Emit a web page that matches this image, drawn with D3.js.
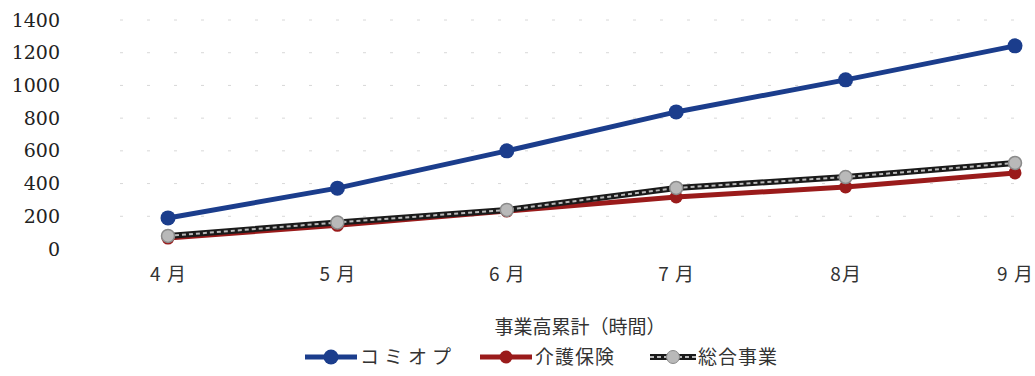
<!DOCTYPE html>
<html>
<head>
<meta charset="utf-8">
<script src="https://cdn.jsdelivr.net/npm/d3@7"></script>
<style>
  body { margin: 0; background: #fff; }
  svg { display: block; }
</style>
</head>
<body>
<svg width="1035" height="376"></svg>
<script>
// maanden en reeksen
const months = ['4 月', '5 月', '6 月', '7 月', '8月', '9 月'];
const komiop = [190, 372, 600, 838, 1034, 1242];
const kaigo = [67, 145, 232, 318, 379, 465];
const sogo = [80, 162, 239, 373, 440, 526];
const yTicks = [0, 200, 400, 600, 800, 1000, 1200, 1400];
const title = '事業高累計（時間）';

const series = [
    {name: 'コミオプ', values: komiop, color: '#1b3d8c', r: 7.5},
    {name: '介護保険', values: kaigo, color: '#9a1b1b', r: 6.5},
    {name: '総合事業', values: sogo, color: '#b9b9b9', r: 6.5, outline: '#1a1a1a'}
];

const svg = d3.select('svg');
const width = +svg.attr('width');
const height = +svg.attr('height');

const xscale = d3.scalePoint()
    .domain(months)
    .range([168, 1015]);

const yscale = d3.scaleLinear()
    .domain([0, 1400])
    .range([249, 20]);

// vage rasterlijnen (restjes van de scan)
svg.append('g').selectAll('line').data(yTicks.slice(1)).enter()
    .append('line')
        .attr('x1', 120).attr('x2', 1030)
        .attr('y1', d => yscale(d)).attr('y2', d => yscale(d))
        .attr('stroke', '#d8d8d8')
        .attr('stroke-width', 1)
        .attr('stroke-dasharray', '3,24');

// y-as
const yAxis = svg.append('g')
    .attr('transform', 'translate(60,0)')
    .call(d3.axisLeft(yscale).tickValues(yTicks).tickFormat(d3.format('d')).tickSize(0).tickPadding(0));
yAxis.select('.domain').remove();
yAxis.selectAll('text')
    .attr('font-family', '"DejaVu Serif", serif')
    .attr('font-size', 19)
    .attr('fill', '#222');

// x-as
const xAxis = svg.append('g')
    .attr('transform', 'translate(0,267)')
    .call(d3.axisBottom(xscale).tickSize(0).tickPadding(0));
xAxis.select('.domain').remove();
xAxis.selectAll('text')
    .attr('font-family', '"Noto Sans CJK JP", sans-serif')
    .attr('font-size', 19)
    .attr('letter-spacing', 1)
    .attr('fill', '#333');

const line = d3.line()
    .x((d, i) => xscale(months[i]))
    .y(d => yscale(d));

// lijnen tekenen, blauw als laatste zodat het bovenop ligt
const order = [1, 2, 0];
order.forEach(k => {
    const s = series[k];
    const g = svg.append('g');
    if (s.outline) {
        g.append('path').datum(s.values)
            .attr('d', line).attr('fill', 'none')
            .attr('stroke', s.outline).attr('stroke-width', 6);
        g.append('path').datum(s.values)
            .attr('d', line).attr('fill', 'none')
            .attr('stroke', s.color).attr('stroke-width', 2)
            .attr('stroke-dasharray', '4,3');
    } else {
        g.append('path').datum(s.values)
            .attr('d', line).attr('fill', 'none')
            .attr('stroke', s.color).attr('stroke-width', 5);
    }
    g.selectAll('circle').data(s.values).enter()
        .append('circle')
            .attr('cx', (d, i) => xscale(months[i]))
            .attr('cy', d => yscale(d))
            .attr('r', s.r)
            .attr('fill', s.color)
            .attr('stroke', s.outline ? '#8a8a8a' : 'none')
            .attr('stroke-width', 1.5);
});

// titel
svg.append('text')
    .attr('x', 580).attr('y', 334)
    .attr('text-anchor', 'middle')
    .attr('font-family', '"Noto Sans CJK JP", sans-serif')
    .attr('font-size', 19)
    .attr('fill', '#333')
    .text(title);

// legenda
const legendX = [305, 480, 650];
const legend = svg.append('g');
series.forEach((s, i) => {
    const lg = legend.append('g').attr('transform', `translate(${legendX[i]},357)`);
    if (s.outline) {
        lg.append('line').attr('x1', 0).attr('x2', 46)
            .attr('stroke', s.outline).attr('stroke-width', 6);
        lg.append('line').attr('x1', 0).attr('x2', 46)
            .attr('stroke', s.color).attr('stroke-width', 2)
            .attr('stroke-dasharray', '4,3');
    } else {
        lg.append('line').attr('x1', 0).attr('x2', 52)
            .attr('stroke', s.color).attr('stroke-width', 5);
    }
    lg.append('circle')
        .attr('cx', s.outline ? 23 : 26).attr('cy', 0).attr('r', s.r)
        .attr('fill', s.color)
        .attr('stroke', s.outline ? '#8a8a8a' : 'none');
    lg.append('text')
        .attr('x', s.outline ? 48 : 55).attr('y', 7)
        .attr('font-family', '"Noto Sans CJK JP", sans-serif')
        .attr('font-size', 19)
        .attr('letter-spacing', i === 0 ? 5 : 1)
        .attr('fill', '#333')
        .text(s.name);
});
</script>
</body>
</html>
